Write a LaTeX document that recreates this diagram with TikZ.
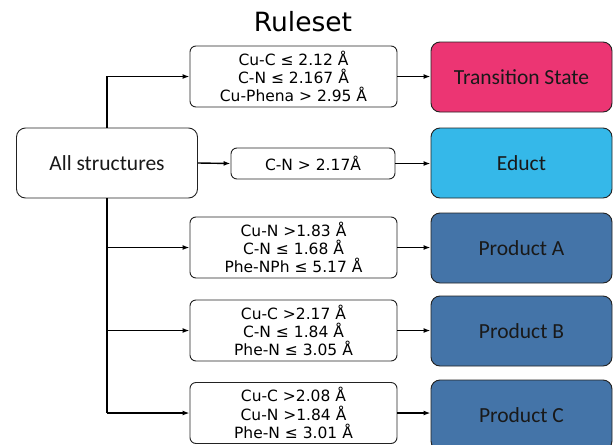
\documentclass[tikz,border=0pt]{standalone}
\usepackage{fontspec}
\setmainfont{DejaVu Sans}
\newfontfamily\calfont{Carlito}
\usetikzlibrary{arrows.meta}
\definecolor{tscol}{HTML}{EC3573}
\definecolor{educol}{HTML}{35B8E9}
\definecolor{prodcol}{HTML}{4474A8}
\definecolor{edgecol}{HTML}{222222}
\begin{document}
\begin{tikzpicture}[x=1pt,y=-1pt,
  rulebox/.style={draw=edgecol, line width=0.9pt, rounded corners=6pt, fill=white,
    minimum width=207pt, minimum height=61pt, align=center, inner sep=0pt,
    font=\fontsize{15.5}{18.3}\selectfont},
  bigbox/.style={draw=edgecol, line width=0.9pt, rounded corners=9pt,
    minimum width=181pt, minimum height=70pt, inner sep=0pt, text=black!90,
    font=\calfont\fontsize{21.5}{24}\selectfont},
  arr/.style={-{Latex[length=7pt,width=5pt]}, line width=1.4pt, black}]
\useasboundingbox (0,0) rectangle (614,445);
\node (title) at (303,22) {\fontsize{26.5}{30}\selectfont Ruleset};
\node[bigbox, fill=white] (all) at (107,163) {All structures};
\node[rulebox] (r1) at (293.5,76.5) {Cu-C ≤ 2.12 Å\\C-N ≤ 2.167 Å\\Cu-Phena > 2.95 Å};
\node[bigbox, fill=tscol] (ts) at (521.5,77) {Transition State};
\node[rulebox, minimum width=164pt, minimum height=31pt] (r2) at (313,163.5) {C-N > 2.17Å};
\node[bigbox, fill=educol] (ed) at (521.5,163) {Educt};
\node[rulebox] (ra) at (293.5,247.5) {Cu-N >1.83 Å\\C-N ≤ 1.68 Å\\Phe-NPh ≤ 5.17 Å};
\node[bigbox, fill=prodcol] (pa) at (521.5,248) {Product A};
\node[rulebox] (rb) at (293.5,330.5) {Cu-C >2.17 Å\\C-N ≤ 1.84 Å\\Phe-N ≤ 3.05 Å};
\node[bigbox, fill=prodcol] (pb) at (521.5,331) {Product B};
\node[rulebox] (rc) at (293.5,413) {Cu-C >2.08 Å\\Cu-N >1.84 Å\\Phe-N ≤ 3.01 Å};
\node[bigbox, fill=prodcol] (pc) at (521.5,415) {Product C};
% connectors
\draw[arr] (all.north) |- (r1.west);
\draw[arr] (all.east) -- (r2.west);
\draw[line width=1.4pt] (all.south) -- (all.south |- rc.west);
\draw[arr] (all.south |- ra.west) -- (ra.west);
\draw[arr] (all.south |- rb.west) -- (rb.west);
\draw[arr] (all.south |- rc.west) -- (rc.west);
\draw[arr] (r1.east) -- (r1.east -| ts.west);
\draw[arr] (r2.east) -- (r2.east -| ed.west);
\draw[arr] (ra.east) -- (ra.east -| pa.west);
\draw[arr] (rb.east) -- (rb.east -| pb.west);
\draw[arr] (rc.east) -- (rc.east -| pc.west);
\end{tikzpicture}
\end{document}
